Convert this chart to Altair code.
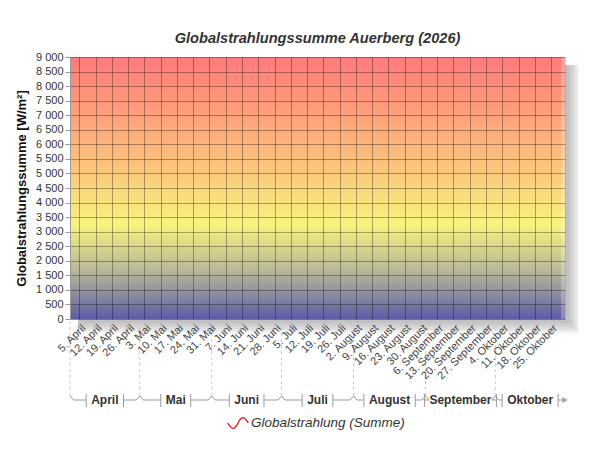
import altair as alt
import pandas as pd
from datetime import datetime, timedelta

# ---------------- data ----------------
chart_title = "Globalstrahlungssumme Auerberg (2026)"
y_title = "Globalstrahlungssumme [W/m²]"
series_name = "Globalstrahlung (Summe)"

# the series has no values yet (year 2026) -> empty
series_dates = []
series_values = []

domain_start = "2026-04-01T00:00:00"
domain_end = "2026-10-31T00:00:00"

week_ticks = [
    "2026-04-05", "2026-04-12", "2026-04-19", "2026-04-26",
    "2026-05-03", "2026-05-10", "2026-05-17", "2026-05-24", "2026-05-31",
    "2026-06-07", "2026-06-14", "2026-06-21", "2026-06-28",
    "2026-07-05", "2026-07-12", "2026-07-19", "2026-07-26",
    "2026-08-02", "2026-08-09", "2026-08-16", "2026-08-23", "2026-08-30",
    "2026-09-06", "2026-09-13", "2026-09-20", "2026-09-27",
    "2026-10-04", "2026-10-11", "2026-10-18", "2026-10-25",
]
y_ticks = [0, 500, 1000, 1500, 2000, 2500, 3000, 3500, 4000, 4500,
           5000, 5500, 6000, 6500, 7000, 7500, 8000, 8500, 9000]

month_names = ["April", "Mai", "Juni", "Juli", "August", "September", "Oktober"]
month_starts = ["2026-04-01", "2026-05-01", "2026-06-01", "2026-07-01",
                "2026-08-01", "2026-09-01", "2026-10-01"]
month_ends = ["2026-05-01", "2026-06-01", "2026-07-01", "2026-08-01",
              "2026-09-01", "2026-10-01", "2026-10-31"]

# ---------------- layout ----------------
W, H = 495, 262
FONT = "Liberation Sans"
YB = 343  # bracket row, px below plot top

def parse(s):
    return datetime.fromisoformat(s)

def iso(d):
    return d.strftime("%Y-%m-%dT%H:%M:%S")

def dt(s):
    d = parse(s)
    return alt.DateTime(year=d.year, month=d.month, date=d.day)

d0, d1 = parse(domain_start), parse(domain_end)
px_per_day = W / (d1 - d0).days

# approximate Arial bold char widths (em)
cw = {"A": .722, "p": .611, "r": .389, "i": .278, "l": .278, "M": .833, "a": .556,
      "J": .556, "u": .611, "n": .611, "g": .611, "s": .556, "t": .333, "S": .667,
      "e": .556, "m": .889, "b": .611, "O": .778, "k": .556, "o": .611}

def txt_w(s, size=12):
    return sum(cw.get(c, .6) for c in s) * size

caret_days = 3.5 / px_per_day
seg_rows, tick_rows, lab_rows, legL, legR = [], [], [], [], []
for i, (name, s, e) in enumerate(zip(month_names, month_starts, month_ends)):
    ds, de = parse(s), parse(e)
    mid = ds + (de - ds) / 2
    half = timedelta(days=(txt_w(name) / 2 + 5) / px_per_day)
    cd = timedelta(days=caret_days)
    seg_rows.append({"x": iso(ds + cd), "x2": iso(mid - half)})
    end_right = de - cd if i < len(month_names) - 1 else de
    seg_rows.append({"x": iso(mid + half), "x2": iso(end_right)})
    tick_rows += [{"x": iso(mid - half)}, {"x": iso(mid + half)}]
    lab_rows.append({"x": iso(mid), "label": name})
    legR.append({"x": iso(ds), "x2": iso(ds + cd)})
    if i > 0:
        legL.append({"x": iso(ds - cd), "x2": iso(ds)})

xscale = alt.Scale(domain=[dt(domain_start), dt(domain_end)], nice=False)
yscale = alt.Scale(domain=[0, 9000], nice=False, zero=True)

months_de = "['Januar','Februar','März','April','Mai','Juni','Juli','August','September','Oktober','November','Dezember']"
xaxis = alt.Axis(
    values=[dt(t) for t in week_ticks],
    labelExpr="date(datum.value) + '. ' + " + months_de + "[month(datum.value)]",
    labelAngle=-45, labelFontSize=11, labelColor="#444", labelFont=FONT,
    labelPadding=3, labelOverlap=False, labelFlush=False, labelBound=False,
    ticks=False, domain=False, grid=True, gridColor="#000", gridOpacity=0.32,
    title=None, zindex=1,
)
yaxis = alt.Axis(
    values=y_ticks,
    labelExpr="replace(format(datum.value, ','), ',', ' ')",
    labelFontSize=11, labelColor="#333", labelFont=FONT, labelPadding=2,
    tickSize=5, tickColor="#999", domainColor="#999",
    grid=True, gridColor="#000", gridOpacity=0.32,
    title=y_title, titleFont=FONT, titleFontSize=13, titleFontWeight="bold",
    titleColor="#111", titlePadding=7, zindex=1,
)

one = alt.Data(values=[{}])

# drop shadow of the plot area
shadows = []
for k in [4, 6, 8, 10, 12, 14]:
    shadows.append(
        alt.Chart(one).mark_rect(fill="#888", opacity=0.11).encode(
            x=alt.value(8), x2=alt.value(W + k), y=alt.value(8), y2=alt.value(H + k)
        )
    )

grad = alt.Gradient(
    gradient="linear", x1=0, x2=0, y1=0, y2=1,
    stops=[
        alt.GradientStop(color="#ff7a7a", offset=0),
        alt.GradientStop(color="#fbc47c", offset=0.42),
        alt.GradientStop(color="#f7f47c", offset=0.64),
        alt.GradientStop(color="#b2b29a", offset=0.83),
        alt.GradientStop(color="#5c5ca6", offset=1),
    ],
)
bg = alt.Chart(one).mark_rect(fill=grad).encode(
    x=alt.value(0), x2=alt.value(W), y=alt.value(0), y2=alt.value(H)
)
# light bevel at the right edge
bevel_r = alt.Chart(one).mark_rect(fill="#fff", opacity=0.25).encode(
    x=alt.value(W - 4), x2=alt.value(W), y=alt.value(0), y2=alt.value(H)
)

series_df = pd.DataFrame({"date": series_dates, "value": series_values,
                          "series": [series_name] * len(series_values)})
line = alt.Chart(alt.Data(values=series_df.to_dict("records"))).mark_line(strokeWidth=2).encode(
    x=alt.X("date:T", scale=xscale, axis=xaxis),
    y=alt.Y("value:Q", scale=yscale, axis=yaxis),
    color=alt.Color(
        "series:N",
        scale=alt.Scale(domain=[series_name], range=["#ff0000"]),
        legend=alt.Legend(
            title=None, orient="none", legendX=157, legendY=355,
            symbolType="M-1,0 C-0.6,0.7 -0.35,0.7 0,0 C0.35,-0.7 0.6,-0.7 1,0",
            symbolSize=420, symbolStrokeWidth=1.3, symbolFillColor="transparent",
            labelFont=FONT, labelFontSize=13.5, labelFontStyle="italic",
            labelColor="#333", labelOffset=2,
        ),
    ),
)

bound_df = pd.DataFrame({"x": [iso(parse(s)) for s in month_starts]})
bounds = alt.Chart(bound_df).mark_rule(color="#c8c8c8", strokeDash=[3, 3]).encode(
    x=alt.X("x:T", scale=xscale, axis=xaxis), y=alt.value(H + 2), y2=alt.value(YB - 4)
)
bcol = "#999"
segs = alt.Chart(pd.DataFrame(seg_rows)).mark_rule(color=bcol).encode(
    x=alt.X("x:T", scale=xscale, axis=xaxis), x2="x2:T", y=alt.value(YB)
)
ticks = alt.Chart(pd.DataFrame(tick_rows)).mark_rule(color=bcol).encode(
    x=alt.X("x:T", scale=xscale, axis=xaxis), y=alt.value(YB - 6), y2=alt.value(YB + 7)
)
legs_r = alt.Chart(pd.DataFrame(legR)).mark_rule(color=bcol).encode(
    x=alt.X("x:T", scale=xscale, axis=xaxis), x2="x2:T", y=alt.value(YB - 4), y2=alt.value(YB)
)
legs_l = alt.Chart(pd.DataFrame(legL)).mark_rule(color=bcol).encode(
    x=alt.X("x:T", scale=xscale, axis=xaxis), x2="x2:T", y=alt.value(YB), y2=alt.value(YB - 4)
)
labels = alt.Chart(pd.DataFrame(lab_rows)).mark_text(
    font=FONT, fontSize=12, fontWeight="bold", color="#333", baseline="middle", align="center"
).encode(x=alt.X("x:T", scale=xscale, axis=xaxis), y=alt.value(YB), text="label:N")
arrow = alt.Chart(pd.DataFrame({"x": [iso(d1)]})).mark_point(
    shape="triangle-right", filled=True, color="#aaa", size=45, opacity=1
).encode(x=alt.X("x:T", scale=xscale, axis=xaxis), y=alt.value(YB))

chart = alt.layer(
    *shadows, bg, bevel_r, line, bounds, segs, ticks, legs_r, legs_l, labels, arrow
).properties(
    width=W, height=H,
    title=alt.TitleParams(chart_title, font=FONT, fontSize=14.6, fontWeight="bold",
                          fontStyle="italic", color="#333", offset=5, anchor="middle"),
    autosize=alt.AutoSizeParams(type="none"),
    padding={"left": 62, "top": 49, "right": 25, "bottom": 115},
).configure_view(stroke="#aaa", strokeWidth=1).configure(background="white")

chart.save("out.html", embed_options={"renderer": "svg", "actions": False})
